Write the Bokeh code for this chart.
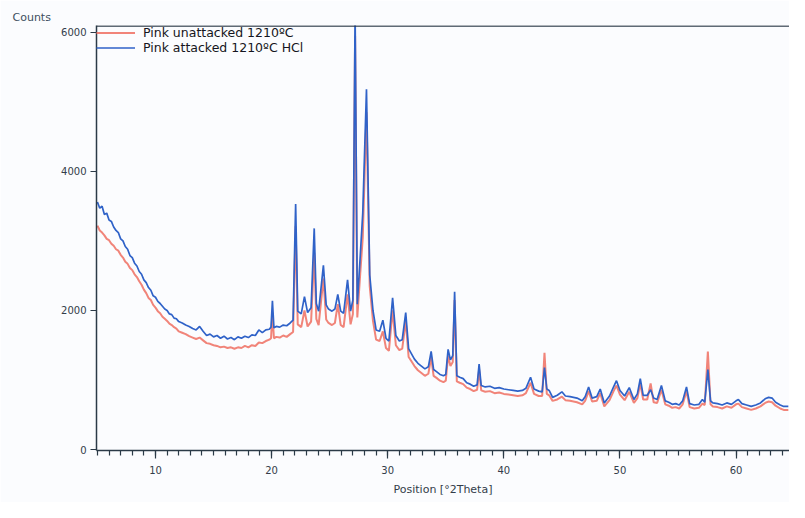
from bokeh.plotting import figure
from bokeh.models import SingleIntervalTicker, Span, Title, Range1d, Legend, LegendItem
from bokeh.embed import file_html
from bokeh.resources import INLINE

# ---- data ----
two_theta = [
    5.0, 5.2, 5.4, 5.6, 5.8, 6.0, 6.2, 6.4, 6.6, 6.8, 7.0, 7.2, 7.4, 7.6, 7.8, 8.0,
    8.2, 8.4, 8.6, 8.8, 9.0, 9.2, 9.4, 9.6, 9.8, 10.0, 10.2, 10.4, 10.6, 10.8, 11.0,
    11.2, 11.4, 11.6, 11.8, 12.0, 12.3, 12.6, 12.9, 13.2, 13.5, 13.8, 14.1, 14.4,
    14.7, 15.0, 15.3, 15.6, 15.9, 16.2, 16.5, 16.8, 17.1, 17.4, 17.7, 18.0, 18.3,
    18.6, 18.9, 19.2, 19.5, 19.8, 19.95, 20.07, 20.2, 20.4, 20.7, 21.0, 21.3, 21.6,
    21.85, 22.07, 22.25, 22.55, 22.83, 23.1, 23.4, 23.67, 23.85, 24.05, 24.46, 24.7,
    24.9, 25.2, 25.45, 25.7, 25.95, 26.2, 26.54, 26.8, 27.0, 27.19, 27.38, 27.6,
    27.85, 28.17, 28.45, 28.73, 29.0, 29.3, 29.58, 29.85, 30.1, 30.42, 30.7, 31.0,
    31.25, 31.55, 31.8, 32.0, 32.3, 32.6, 32.9, 33.2, 33.5, 33.74, 33.95, 34.2, 34.5,
    34.8, 35.0, 35.2, 35.4, 35.6, 35.76, 35.95, 36.2, 36.5, 36.8, 37.1, 37.4, 37.7,
    37.87, 38.05, 38.4, 38.8, 39.2, 39.6, 40.0, 40.4, 40.8, 41.2, 41.6, 41.9, 42.3,
    42.6, 43.0, 43.3, 43.5, 43.7, 43.9, 44.2, 44.6, 45.0, 45.3, 45.7, 46.0, 46.3,
    46.75, 47.0, 47.3, 47.6, 48.0, 48.3, 48.65, 49.1, 49.45, 49.7, 50.0, 50.4, 50.8,
    51.2, 51.5, 51.75, 52.0, 52.35, 52.64, 52.9, 53.2, 53.57, 53.9, 54.2, 54.5, 54.8,
    55.1, 55.4, 55.73, 56.0, 56.4, 56.8, 57.1, 57.3, 57.57, 57.8, 58.0, 58.4, 58.8,
    59.2, 59.6, 60.0, 60.2, 60.5, 60.9, 61.3, 61.7, 62.1, 62.5, 62.8, 63.1, 63.4,
    63.8, 64.1, 64.5,
]

attacked_hcl = [
    3560, 3470, 3500, 3380, 3400, 3300, 3280, 3200, 3150, 3120, 3030, 3000, 2920, 2880, 2790, 2760,
    2680, 2640, 2560, 2520, 2440, 2400, 2330, 2290, 2210, 2190, 2130, 2100, 2060, 2020, 2000,
    1950, 1940, 1890, 1880, 1840, 1820, 1790, 1770, 1740, 1720, 1770, 1700, 1640,
    1660, 1620, 1640, 1600, 1630, 1590, 1610, 1580, 1620, 1600, 1630, 1610, 1650,
    1640, 1720, 1680, 1720, 1730, 1760, 2140, 1750, 1770, 1760, 1790, 1780, 1820,
    1860, 3530, 1990, 1950, 2200, 1970, 2040, 3180, 2100, 1990, 2650, 2080,
    2020, 1990, 2020, 2230, 1990, 1960, 2440, 1990, 2150, 6300, 2090, 2690,
    3400, 5180, 2510, 2000, 1720, 1700, 1860, 1600, 1560, 2180, 1640, 1560,
    1580, 1970, 1450, 1390, 1300, 1240, 1200, 1160, 1190, 1410, 1150, 1120, 1080,
    1060, 1080, 1440, 1290, 1350, 2270, 1060, 1040, 1020, 960, 940, 910, 930,
    1230, 920, 900, 910, 880, 890, 870, 860, 850, 840, 850, 880, 1040,
    870, 840, 830, 1180, 870, 850, 750, 780, 830, 770, 760, 750, 740,
    700, 760, 900, 740, 760, 870, 670, 770, 900, 990, 850, 770, 890,
    720, 800, 1020, 780, 780, 860, 740, 720, 920, 700, 680, 650, 660,
    640, 700, 900, 660, 640, 650, 720, 680, 1150, 700, 670, 660, 640,
    670, 650, 700, 720, 660, 640, 620, 640, 670, 730, 750, 740, 680,
    640, 620, 620,
]

unattacked = [
    3220, 3150, 3120, 3080, 3030, 3010, 2960, 2930, 2880, 2860, 2800, 2760, 2700, 2670, 2610, 2580,
    2520, 2480, 2420, 2370, 2300, 2250, 2180, 2150, 2080, 2040, 1990, 1960, 1910, 1880, 1850,
    1810, 1790, 1760, 1740, 1700, 1680, 1660, 1630, 1610, 1590, 1610, 1570, 1530,
    1520, 1500, 1490, 1470, 1480, 1460, 1470, 1450, 1470, 1460, 1490, 1470, 1500,
    1490, 1540, 1530, 1560, 1580, 1600, 1960, 1600, 1620, 1610, 1640, 1620, 1660,
    1690, 3210, 1800, 1760, 2000, 1770, 1840, 2830, 1880, 1790, 2460, 1870,
    1820, 1790, 1820, 2090, 1790, 1760, 2230, 1800, 1950, 5950, 1900, 2450,
    3050, 4850, 2350, 1850, 1580, 1560, 1700, 1460, 1420, 2000, 1500, 1430,
    1450, 1850, 1330, 1280, 1200, 1140, 1100, 1060, 1090, 1330, 1060, 1030, 990,
    970, 990, 1350, 1200, 1260, 2150, 980, 960, 940, 890, 870, 840, 860,
    1150, 850, 830, 840, 810, 820, 800, 790, 780, 770, 780, 810, 960,
    800, 770, 770, 1390, 800, 780, 700, 720, 760, 710, 700, 690, 680,
    650, 700, 840, 690, 700, 810, 620, 710, 840, 920, 790, 710, 830,
    670, 740, 950, 720, 720, 950, 680, 670, 860, 650, 630, 600, 610,
    590, 650, 840, 610, 590, 600, 660, 640, 1410, 650, 620, 610, 590,
    620, 600, 650, 660, 610, 590, 570, 590, 620, 670, 690, 680, 630,
    590, 570, 570,
]

series_labels = ["Pink unattacked 1210ºC", "Pink attacked 1210ºC HCl"]
series_colors = ["#ee6f62", "#2f62c8"]
y_label = "Counts"
x_label = "Position [°2Theta]"

FONT = "DejaVu Sans"
AXIS_COLOR = "#2b3a47"
TEXT_COLOR = "#333d4a"
BG = "#fbfcfe"
Y_START, Y_END = -14, 6098

p = figure(width=789, height=502, output_backend="svg", toolbar_location=None,
           x_range=Range1d(4.92, 64.6), y_range=Range1d(Y_START, Y_END),
           min_border_left=96, min_border_right=0, min_border_top=25, min_border_bottom=52,
           background_fill_color=BG, border_fill_color=BG)
p.outline_line_color = None
p.grid.visible = False

r_red = p.line(two_theta, unattacked, line_color=series_colors[0], line_width=2.0, line_alpha=0.85)
r_blue = p.line(two_theta, attacked_hcl, line_color=series_colors[1], line_width=1.7)

# top frame line
p.add_layout(Span(location=Y_END - 8, dimension="width", line_color=AXIS_COLOR, line_width=1.5))

# x axis
xa = p.xaxis[0]
xa.ticker = SingleIntervalTicker(interval=10, num_minor_ticks=10)
xa.axis_line_color = AXIS_COLOR
xa.axis_line_width = 1.5
xa.major_tick_line_color = AXIS_COLOR
xa.major_tick_line_width = 1.2
xa.minor_tick_line_color = AXIS_COLOR
xa.minor_tick_line_width = 1.2
xa.major_tick_in = 0
xa.major_tick_out = 8
xa.minor_tick_in = 0
xa.minor_tick_out = 5
xa.major_label_standoff = 7
xa.major_label_text_font = FONT
xa.major_label_text_font_size = "10px"
xa.major_label_text_color = TEXT_COLOR

# y axis
ya = p.yaxis[0]
ya.ticker = SingleIntervalTicker(interval=2000, num_minor_ticks=0)
ya.axis_line_color = AXIS_COLOR
ya.axis_line_width = 1.5
ya.major_tick_line_color = AXIS_COLOR
ya.major_tick_line_width = 1.2
ya.major_tick_in = 0
ya.major_tick_out = 6
ya.minor_tick_line_color = None
ya.major_label_standoff = 4
ya.major_label_text_font = FONT
ya.major_label_text_font_size = "10px"
ya.major_label_text_color = TEXT_COLOR

# "Counts" label at top-left (as the title)
p.title.text = y_label
p.title.align = "left"
p.title.offset = -84
p.title.standoff = 3
p.title.text_font = FONT
p.title.text_font_size = "11px"
p.title.text_font_style = "normal"
p.title.text_color = "#3d4f60"

# x-axis caption below
p.add_layout(Title(text=x_label, align="center", offset=-26, standoff=9,
                   text_font=FONT, text_font_size="11px", text_font_style="normal",
                   text_color=TEXT_COLOR), "below")

legend = Legend(items=[LegendItem(label=series_labels[0], renderers=[r_red]),
                       LegendItem(label=series_labels[1], renderers=[r_blue])],
                location="top_left", margin=0, padding=0, spacing=0,
                glyph_width=39, glyph_height=15, label_height=15, label_standoff=8,
                label_text_font=FONT, label_text_font_size="12.5px", label_text_color="#151520",
                background_fill_alpha=0, border_line_color=None)
p.add_layout(legend)

open("out.html", "w").write(file_html(p, INLINE))
